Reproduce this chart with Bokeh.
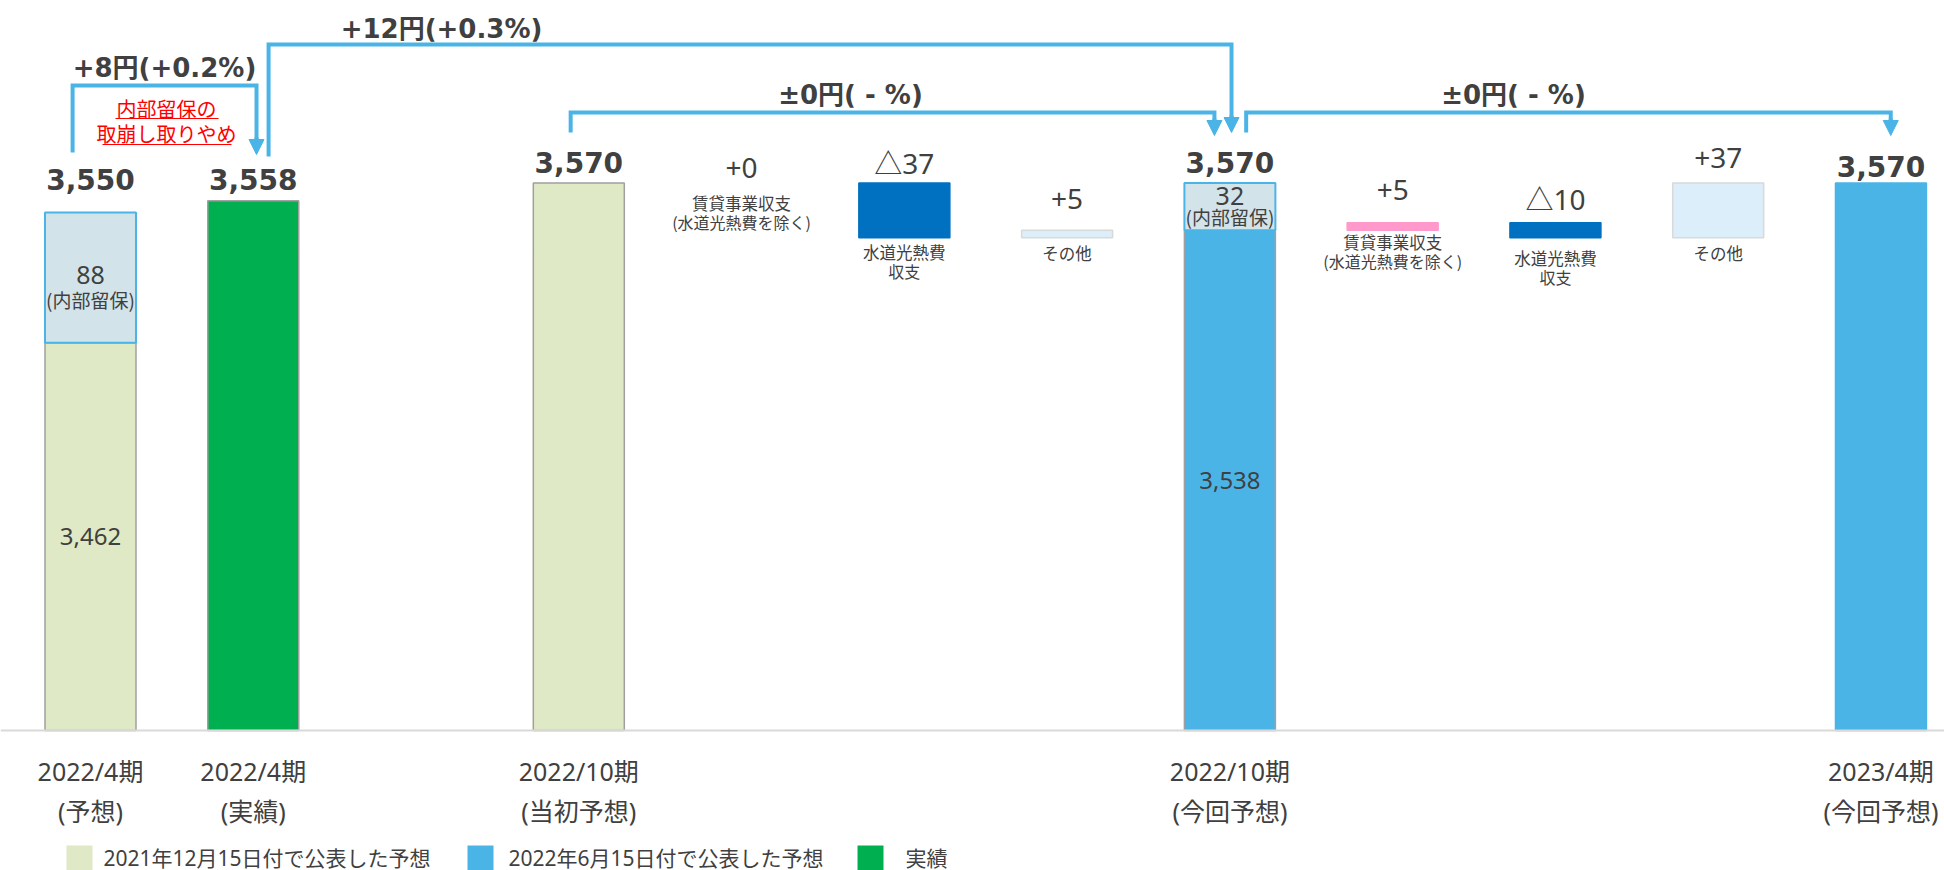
from bokeh.plotting import figure
from bokeh.models import Range1d, Span, Arrow, NormalHead
from bokeh.core.properties import value
from bokeh.embed import file_html
from bokeh.resources import INLINE

# ---------------- data ----------------
period_line1 = ["2022/4期", "2022/4期", "2022/10期", "2022/10期", "2023/4期"]
period_line2 = ["(予想)", "(実績)", "(当初予想)", "(今回予想)", "(今回予想)"]
period_slot = [0, 1, 3, 7, 11]
period_total = [3550, 3558, 3570, 3570, 3570]
period_reserve = [88, 0, 0, 32, 0]          # 内部留保
period_series = ["dec", "actual", "dec", "jun", "jun"]

change_line1 = ["賃貸事業収支", "水道光熱費", "その他", "賃貸事業収支", "水道光熱費", "その他"]
change_line2 = ["(水道光熱費を除く)", "収支", "", "(水道光熱費を除く)", "収支", ""]
change_kind = ["rent", "util", "other", "rent", "util", "other"]
change_slot = [4, 5, 6, 8, 9, 10]
change_value = [0, -37, 5, 5, -10, 37]
change_group_start_period = [2, 2, 2, 3, 3, 3]   # index of period the chain starts from

bracket_from_slot = [0, 1, 3, 7]
bracket_to_slot = [1, 7, 7, 11]
bracket_label = ["+8円(+0.2%)", "+12円(+0.3%)", "±0円( - %)", "±0円( - %)"]

note_lines = ["内部留保の", "取崩し取りやめ"]
reserve_caption = "(内部留保)"

legend_labels = ["2021年12月15日付で公表した予想", "2022年6月15日付で公表した予想", "実績"]
legend_series = ["dec", "jun", "actual"]

# ---------------- styles ----------------
BEIGE = "#E0E9C5"
BLUE = "#4BB4E6"
GREEN = "#00B050"
RESERVE = "#D3E3EA"
DARK = "#0070C0"
PINK = "#FF99CC"
LIGHT = "#DCEEF9"
GRAY_LINE = "#A0A0A0"
TEXT = "#404040"
series_color = {"dec": BEIGE, "jun": BLUE, "actual": GREEN}
kind_color = {"rent": PINK, "util": DARK, "other": LIGHT}
kind_border = {"rent": PINK, "util": DARK, "other": "#D9D9D9"}

F_BOLD = value("DejaVu Sans, Noto Sans CJK JP")
F_REG = value("Noto Sans, Noto Sans CJK JP")
F_JP = value("Noto Sans CJK JP")

W, H = 1944, 870
PX_PER_UNIT = 1.48
SLOT_PX = 162.77
BASE = 3200
BASE_PX = 730
X0_PX = 90
y_top = BASE + BASE_PX / PX_PER_UNIT
y_bot = BASE - (H - BASE_PX) / PX_PER_UNIT
x_left = -X0_PX / SLOT_PX
x_right = (W - X0_PX) / SLOT_PX


def X(sx):
    return (sx - X0_PX) / SLOT_PX


def Y(sy):
    return BASE + (BASE_PX - sy) / PX_PER_UNIT


BAR_W = 0.559

p = figure(width=W, height=H, x_range=Range1d(x_left, x_right), y_range=Range1d(y_bot, y_top),
           output_backend="svg", toolbar_location=None, min_border=0,
           x_axis_type=None, y_axis_type=None)
p.grid.visible = False
p.outline_line_color = None
p.background_fill_color = "white"
p.border_fill_color = "white"

p.add_layout(Span(location=BASE, dimension="width", line_color="#D9D9D9", line_width=2))

# ---------------- period bars ----------------
lower_top = [t - r for t, r in zip(period_total, period_reserve)]
border = [GRAY_LINE, GRAY_LINE, GRAY_LINE, GRAY_LINE, BLUE]
p.vbar(x=period_slot, bottom=BASE, top=lower_top, width=BAR_W,
       fill_color=[series_color[s] for s in period_series], line_color=border, line_width=1.5)

res_idx = [i for i, r in enumerate(period_reserve) if r > 0]
p.vbar(x=[period_slot[i] for i in res_idx], bottom=[lower_top[i] for i in res_idx],
       top=[period_total[i] for i in res_idx], width=BAR_W,
       fill_color=RESERVE, line_color=BLUE, line_width=2)

# totals
tot_off = [-33, -21, -20, -20, -16]
p.text(x=period_slot, y=period_total, text=[f"{v:,}" for v in period_total], y_offset=tot_off,
       text_align="center", text_baseline="middle", text_font=F_BOLD, text_font_style="bold",
       text_font_size="28px", text_color=TEXT)

# inner labels of split bars
p.text(x=[period_slot[i] for i in res_idx], y=[(BASE + lower_top[i]) / 2 for i in res_idx],
       text=[f"{lower_top[i]:,}" for i in res_idx], text_align="center", text_baseline="middle",
       text_font=F_REG, text_font_size="24px", text_color=TEXT)
res_mid = [lower_top[i] + period_reserve[i] / 2 for i in res_idx]
p.text(x=[period_slot[i] for i in res_idx], y=res_mid, text=[str(period_reserve[i]) for i in res_idx],
       y_offset=[-3, -11], text_align="center", text_baseline="middle",
       text_font=F_REG, text_font_size="25px", text_color=TEXT)
p.text(x=[period_slot[i] for i in res_idx], y=res_mid, text=[reserve_caption] * len(res_idx),
       y_offset=[22, 10], text_align="center", text_baseline="middle",
       text_font=F_JP, text_font_size="19px", text_color=TEXT)

# category labels
p.text(x=period_slot, y=[BASE] * 5, text=period_line1, y_offset=40, text_align="center",
       text_baseline="middle", text_font=F_REG, text_font_size="25px", text_color=TEXT)
p.text(x=period_slot, y=[BASE] * 5, text=period_line2, y_offset=80, text_align="center",
       text_baseline="middle", text_font=F_REG, text_font_size="25px", text_color=TEXT)

# ---------------- change (waterfall) bars ----------------
ch_bottom, ch_top = [], []
level = None
prev_start = None
for i, v in enumerate(change_value):
    sp = change_group_start_period[i]
    if sp != prev_start:
        level = period_total[sp] if sp == 2 else period_total[sp] - period_reserve[sp]
        prev_start = sp
    new = level + v
    ch_bottom.append(min(level, new))
    ch_top.append(max(level, new))
    level = new

nz = [i for i, v in enumerate(change_value) if v != 0]
p.vbar(x=[change_slot[i] for i in nz], bottom=[ch_bottom[i] for i in nz], top=[ch_top[i] for i in nz],
       width=BAR_W, fill_color=[kind_color[change_kind[i]] for i in nz],
       line_color=[kind_border[change_kind[i]] for i in nz], line_width=1.5)


def fmt_delta(v):
    return ("△" if v < 0 else "+") + str(abs(v))


p.text(x=change_slot, y=ch_top, text=[fmt_delta(v) for v in change_value],
       y_offset=[-15, -20, -31, -33, -24, -25], text_align="center", text_baseline="middle",
       text_font=F_REG, text_font_size="28px", text_color=TEXT)
sub_off = [20, 14, 15, 12, 20, 15]
p.text(x=change_slot, y=ch_bottom, text=change_line1, y_offset=sub_off, text_align="center",
       text_baseline="middle", text_font=F_JP, text_font_size="16.5px", text_color=TEXT)
p.text(x=change_slot, y=ch_bottom, text=change_line2, y_offset=[o + 19 for o in sub_off],
       text_align="center", text_baseline="middle", text_font=F_JP, text_font_size="16px",
       text_color=TEXT)

# ---------------- brackets ----------------
left_dx = [-0.11, 0.094, -0.05, 0.10]
right_dx = [0.02, 0.01, -0.095, 0.06]
lvl_px = [85, 44, 112, 112]
leg_px = [152, 156, 132, 132]
tip_px = [154, 132, 135, 135]
lab_px = [(164, 67), (441, 28), (850, 94), (1513, 94)]
HEAD = 15
xs, ys = [], []
for i in range(len(bracket_label)):
    xl = bracket_from_slot[i] + left_dx[i]
    xr = bracket_to_slot[i] + right_dx[i]
    xs.append([xl, xl, xr, xr])
    ys.append([Y(leg_px[i]), Y(lvl_px[i]), Y(lvl_px[i]), Y(tip_px[i] - HEAD + 2)])
    p.add_layout(Arrow(end=NormalHead(size=HEAD, fill_color=BLUE, line_color=BLUE, line_width=1),
                       x_start=xr, y_start=Y(tip_px[i] - HEAD - 2), x_end=xr, y_end=Y(tip_px[i]),
                       line_color=BLUE, line_width=4))
p.multi_line(xs=xs, ys=ys, line_color=BLUE, line_width=4, line_join="miter")
p.text(x=[X(a) for a, b in lab_px], y=[Y(b) for a, b in lab_px], text=bracket_label,
       text_align="center", text_baseline="middle", text_font=F_BOLD, text_font_style="bold",
       text_font_size="26px", text_color=TEXT)

# red note
p.text(x=[X(166)] * 2, y=[Y(108), Y(133)], text=note_lines, text_align="center",
       text_baseline="middle", text_font=F_JP, text_font_size="20px", text_color="#FF0000")
p.segment(x0=[X(115), X(102)], y0=[Y(118), Y(144)], x1=[X(218), X(231)], y1=[Y(118), Y(144)],
          line_color="#FF0000", line_width=1.2)

# ---------------- legend ----------------
leg_sq_x = [79, 480, 870]
leg_tx_x = [103, 508, 905]
p.scatter(x=[X(a) for a in leg_sq_x], y=[Y(858)] * 3, marker="square", size=26,
          fill_color=[series_color[s] for s in legend_series], line_color=None)
p.text(x=[X(a) for a in leg_tx_x], y=[Y(857)] * 3, text=legend_labels, text_align="left",
       text_baseline="middle", text_font=F_REG, text_font_size="21px", text_color=TEXT)

open("out.html", "w").write(file_html(p, INLINE))
